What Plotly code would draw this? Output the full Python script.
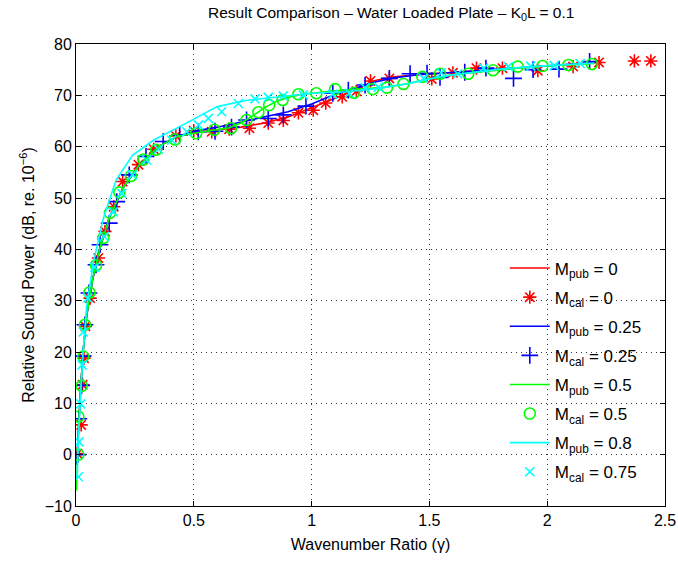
import plotly.graph_objects as go

# ---- published curves ----
pub0_x = [0.003, 0.01, 0.02, 0.03, 0.045, 0.07, 0.1, 0.14, 0.2, 0.27, 0.35, 0.43, 0.5, 0.6, 0.7, 0.8, 0.9, 1.0, 1.1, 1.2, 1.27, 1.35, 1.45, 1.55, 1.7, 1.85, 2.0, 2.1, 2.22]
pub0_y = [-2, 5, 13, 20, 27, 34, 40, 46, 52, 56.5, 60, 62, 62.8, 63.3, 63.8, 64.6, 65.8, 67.6, 69.4, 71.3, 72.9, 73.6, 74, 74.3, 74.8, 75.3, 75.7, 76, 76.4]

pub25_x = [0.003, 0.01, 0.02, 0.03, 0.045, 0.07, 0.1, 0.14, 0.2, 0.27, 0.35, 0.43, 0.5, 0.6, 0.7, 0.8, 0.9, 1.0, 1.1, 1.2, 1.27, 1.35, 1.45, 1.55, 1.7, 1.85, 2.0, 2.1, 2.2]
pub25_y = [-2, 5, 13, 20, 27, 34, 40, 46, 52, 56.5, 60, 62, 63, 63.8, 64.8, 65.8, 66.8, 68.3, 70.2, 71.6, 72.6, 73.4, 74, 74.3, 74.8, 75.3, 75.7, 76, 76.4]

pub5_x = [0.002, 0.01, 0.02, 0.03, 0.045, 0.07, 0.1, 0.14, 0.2, 0.27, 0.35, 0.43, 0.5, 0.6, 0.65, 0.7, 0.75, 0.8, 0.85, 0.9, 0.95, 1.0, 1.1, 1.2, 1.3, 1.4, 1.5, 1.6, 1.7, 1.8, 1.9, 2.0, 2.1, 2.2]
pub5_y = [-7, 5, 13, 20, 27, 34, 40, 46, 52, 56.5, 60, 62, 62.6, 63.4, 63.7, 64.6, 66, 67.6, 68.8, 69.6, 70.1, 70.4, 70.9, 71.2, 71.5, 72.2, 73.2, 74, 74.5, 75, 75.4, 75.7, 76, 76.2]

pub8_x = [0.005, 0.01, 0.02, 0.03, 0.045, 0.074, 0.116, 0.17, 0.24, 0.33, 0.44, 0.57, 0.6, 0.72, 0.87, 1.0, 1.15, 1.29, 1.4, 1.5, 1.6, 1.7, 1.8, 1.9, 2.0, 2.1, 2.2]
pub8_y = [-4.5, 3, 12, 20, 28.8, 37.5, 46, 53.5, 58.3, 61.3, 63.9, 67, 67.8, 69, 69.7, 70.4, 70.7, 71.4, 72.2, 73.2, 74, 74.6, 75.1, 75.5, 75.8, 76.1, 76.3]

# ---- calculated points ----
cal0_x = [0.006, 0.022, 0.028, 0.034, 0.04, 0.06, 0.095, 0.123, 0.16, 0.198, 0.265, 0.33, 0.424, 0.5, 0.576, 0.65, 0.736, 0.816, 0.88, 0.944, 1.007, 1.06, 1.13, 1.19, 1.25, 1.33, 1.51, 1.6, 1.70, 1.81, 1.96, 2.11, 2.22, 2.37, 2.44]
cal0_y = [0.2, 5.8, 13.6, 18.8, 25, 30.5, 38.3, 43.5, 48.3, 53.2, 56.5, 59.5, 62.1, 63.1, 62.9, 63.4, 63.6, 64.6, 65.1, 66.6, 67.1, 68.5, 69.7, 70.8, 72.8, 73.3, 73.2, 74.4, 75.3, 75.3, 74.8, 75.6, 76.4, 76.7, 76.7]

cal25_x = [0.008, 0.012, 0.024, 0.03, 0.038, 0.055, 0.085, 0.102, 0.141, 0.173, 0.226, 0.297, 0.37, 0.44, 0.519, 0.59, 0.66, 0.724, 0.816, 0.88, 0.976, 1.09, 1.156, 1.227, 1.33, 1.418, 1.49, 1.545, 1.65, 1.74, 1.857, 1.94, 2.05, 2.18]
cal25_y = [0, 7, 13.5, 19.2, 25.3, 31.5, 37, 40.9, 45.1, 49.3, 54.5, 58.1, 61, 62.3, 62.9, 63, 63.8, 65.2, 65.5, 66.2, 67.9, 70.4, 71, 72, 73.3, 74.2, 74.3, 73.5, 74.5, 75.3, 73.3, 75, 75.1, 76.6]

cal5_x = [0.01, 0.01, 0.024, 0.031, 0.038, 0.057, 0.085, 0.116, 0.144, 0.184, 0.233, 0.286, 0.34, 0.42, 0.51, 0.587, 0.658, 0.724, 0.774, 0.82, 0.877, 0.944, 1.02, 1.10, 1.18, 1.26, 1.32, 1.39, 1.47, 1.545, 1.665, 1.77, 1.875, 1.98, 2.09, 2.19]
cal5_y = [0, 7.4, 13.4, 19.1, 25.3, 31.6, 36.9, 42.2, 47.1, 51.1, 54.3, 57.5, 59.4, 61.4, 62.6, 63.3, 63.6, 65.2, 66.7, 68.1, 69.1, 70.2, 70.4, 71.2, 70.5, 71.2, 71.5, 72.2, 73.6, 74.2, 74.2, 74.9, 75.6, 75.7, 75.9, 76.1]

cal75_x = [0.01, 0.013, 0.02, 0.026, 0.031, 0.05, 0.08, 0.12, 0.158, 0.194, 0.24, 0.3, 0.35, 0.406, 0.47, 0.52, 0.562, 0.618, 0.689, 0.76, 0.816, 0.88, 0.965, 1.09, 1.16, 1.227, 1.283, 1.475, 1.55, 1.62, 1.73, 1.835, 1.93, 2.03, 2.14]
cal75_y = [-4.3, 2.5, 9.9, 17.5, 23.9, 30.5, 36.5, 42.5, 47.3, 50.9, 54.5, 57.4, 59.5, 61.3, 62.9, 64.2, 65.5, 66.8, 68.4, 69.3, 69.6, 69.9, 70.1, 70.2, 70.4, 71.5, 71.6, 73.3, 74.4, 74.2, 75.3, 75.6, 75.7, 75.8, 76.2]

x_ticks = [0, 0.5, 1, 1.5, 2, 2.5]
y_ticks = [-10, 0, 10, 20, 30, 40, 50, 60, 70, 80]

FONT = "Liberation Sans, Arial, Helvetica, sans-serif"

fig = go.Figure()

def line(x, y, color, name):
    fig.add_trace(go.Scatter(x=x, y=y, mode="lines", name=name, legendgroup=name,
                             line=dict(color=color, width=1.6)))

def pts(x, y, color, symbol, size, name):
    fig.add_trace(go.Scatter(x=x, y=y, mode="markers", name=name, legendgroup=name,
                             marker=dict(symbol=symbol, size=size, color=color,
                                         line=dict(color=color, width=1.6))))

line(pub0_x, pub0_y, "#ff0000", "M<sub>pub</sub> = 0")
pts(cal0_x, cal0_y, "#ff0000", "asterisk-open", 11, "M<sub>cal</sub> = 0")
line(pub25_x, pub25_y, "#0000ff", "M<sub>pub</sub> = 0.25")
pts(cal25_x, cal25_y, "#0000ff", "cross-thin-open", 12, "M<sub>cal</sub> = 0.25")
line(pub5_x, pub5_y, "#00ff00", "M<sub>pub</sub> = 0.5")
pts(cal5_x, cal5_y, "#00ff00", "circle-open", 11, "M<sub>cal</sub> = 0.5")
line(pub8_x, pub8_y, "#00ffff", "M<sub>pub</sub> = 0.8")
pts(cal75_x, cal75_y, "#00ffff", "x-thin-open", 9, "M<sub>cal</sub> = 0.75")

axis_common = dict(
    showline=True, linecolor="black", linewidth=1, mirror="allticks",
    ticks="inside", ticklen=5, tickcolor="black",
    showgrid=True, gridcolor="#333333", gridwidth=1, griddash="1px,4px",
    zeroline=False, automargin=False,
    tickfont=dict(size=16, color="black", family=FONT),
)

fig.update_xaxes(range=[0, 2.5], tickvals=x_ticks, ticktext=[str(v) for v in x_ticks],
                 title=dict(text="Wavenumber Ratio (γ)", font=dict(size=16, family=FONT, color="black"), standoff=10),
                 **axis_common)
fig.update_yaxes(range=[-10, 80], tickvals=y_ticks,
                 title=dict(text="Relative Sound Power (dB, re. 10<sup>−6</sup>)", font=dict(size=16, family=FONT, color="black"), standoff=6),
                 **axis_common)

fig.update_layout(
    width=678, height=561,
    margin=dict(l=76, r=13, t=44, b=55),
    paper_bgcolor="white", plot_bgcolor="white",
    font=dict(family=FONT, size=16, color="black"),
    title=dict(text="Result Comparison – Water Loaded Plate – K<sub>0</sub>L = 0.1",
               x=0.577, xanchor="center", y=0.988, yanchor="top",
               font=dict(size=15.5, family=FONT, color="black")),
    legend=dict(x=0.728, y=0.553, xanchor="left", yanchor="top",
                bgcolor="rgba(0,0,0,0)", borderwidth=0,
                font=dict(size=17, family=FONT, color="black"),
                tracegroupgap=4, itemwidth=40),
    showlegend=True,
)

fig.write_html("out.html")
